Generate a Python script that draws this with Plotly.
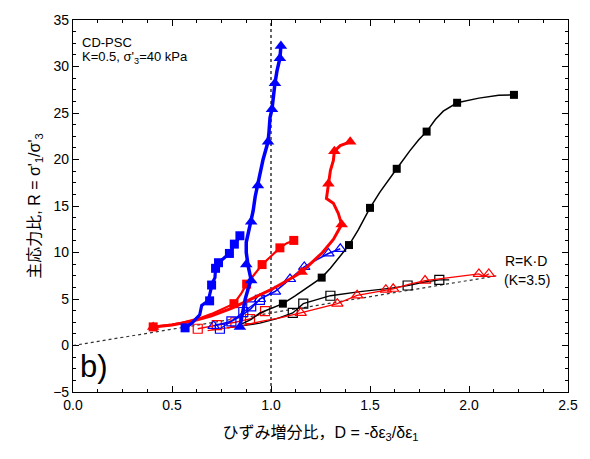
import plotly.graph_objects as go

# Strain increment ratio D and principal stress ratio R, per test path
bt_d = [0.843, 0.855, 0.87, 0.89, 0.90, 0.885, 0.875, 0.875, 0.89, 0.90, 0.91, 0.92, 0.934, 0.945,
        0.96, 0.975, 0.985, 0.99, 0.995, 1.005, 1.01, 1.015, 1.02, 1.03, 1.045, 1.05]
bt_r = [2.0, 3.5, 5.0, 6.5, 7.0, 8.5, 10.0, 11.1, 12.5, 13.3, 14.5, 16.0, 17.2, 18.5,
        20.0, 21.0, 21.9, 23.0, 24.5, 25.4, 26.5, 27.5, 28.2, 29.5, 30.9, 32.2]
bt_md = [0.843, 0.90, 0.875, 0.90, 0.934, 0.985, 1.005, 1.02, 1.045, 1.05]
bt_mr = [2.0, 7.0, 8.7, 13.3, 17.2, 21.9, 25.4, 28.2, 30.9, 32.2]

bs_d = [0.566, 0.60, 0.64, 0.65, 0.683, 0.69, 0.70, 0.705, 0.717, 0.72, 0.735, 0.765, 0.79, 0.815, 0.83, 0.843]
bs_r = [1.9, 2.4, 3.3, 4.3, 4.8, 5.5, 6.4, 6.8, 7.3, 8.3, 8.9, 9.4, 9.9, 10.9, 11.3, 11.8]
bs_md = [0.566, 0.69, 0.70, 0.72, 0.735, 0.79, 0.815, 0.843]
bs_mr = [1.9, 4.8, 6.5, 8.3, 8.9, 9.9, 10.9, 11.8]

rs_d = [0.405, 0.45, 0.5, 0.55, 0.6, 0.65, 0.70, 0.75, 0.79, 0.813, 0.85, 0.877, 0.90, 0.955, 1.0, 1.045, 1.08, 1.115]
rs_r = [2.0, 2.1, 2.25, 2.45, 2.7, 3.0, 3.4, 3.9, 4.3, 4.5, 5.6, 6.6, 7.2, 8.7, 9.6, 10.5, 11.0, 11.3]
rs_md = [0.405, 0.813, 0.877, 0.955, 1.045, 1.115]
rs_mr = [2.0, 4.5, 6.6, 8.7, 10.5, 11.3]

rt_d = [0.405, 0.5, 0.6, 0.7, 0.8, 0.9, 1.0, 1.1, 1.155, 1.2, 1.26, 1.315, 1.357, 1.34, 1.315, 1.28,
        1.29, 1.30, 1.315, 1.32, 1.35, 1.40]
rt_r = [2.0, 2.2, 2.6, 3.2, 4.0, 5.0, 6.0, 7.2, 7.9, 8.8, 10.0, 11.4, 13.0, 14.2, 15.3, 15.8,
        17.4, 18.8, 19.9, 20.9, 21.5, 21.9]
rt_md = [0.405, 1.155, 1.357, 1.29, 1.32, 1.40]
rt_mr = [2.0, 7.9, 13.0, 17.4, 20.9, 21.9]

ks_d = [0.85, 0.9, 0.944, 1.0, 1.06, 1.12, 1.18, 1.256, 1.30, 1.35, 1.394, 1.44, 1.50, 1.55, 1.60, 1.635,
        1.70, 1.745, 1.786, 1.83, 1.87, 1.94, 2.05, 2.15, 2.227]
ks_r = [2.3, 2.8, 3.5, 4.0, 4.5, 5.3, 6.2, 7.3, 8.3, 9.7, 10.8, 12.4, 14.8, 16.5, 17.9, 19.0,
        20.9, 22.1, 23.0, 24.3, 25.2, 26.1, 26.6, 26.9, 26.95]
ks_md = [1.06, 1.256, 1.394, 1.50, 1.635, 1.786, 1.94, 2.227]
ks_mr = [4.5, 7.3, 10.8, 14.8, 19.0, 23.0, 26.1, 26.95]

bot_d = [0.71, 0.75, 0.80, 0.85, 0.90, 0.944, 1.02, 1.06, 1.096, 1.13, 1.168, 1.22, 1.29, 1.35]
bot_r = [2.1, 2.3, 2.6, 3.2, 4.0, 5.0, 5.8, 6.5, 7.15, 7.8, 8.45, 9.1, 9.9, 10.4]
bot_md = [0.71, 0.944, 1.02, 1.096, 1.168, 1.29, 1.35]
bot_mr = [2.1, 5.0, 5.8, 7.15, 8.45, 9.9, 10.4]

bos_d = [0.742, 0.80, 0.86, 0.90, 0.944]
bos_r = [1.8, 2.6, 3.6, 4.2, 4.9]

ros_d = [0.63, 0.726, 0.82, 0.894, 0.97]
ros_r = [1.8, 2.2, 2.5, 2.85, 3.7]

rot_d = [0.68, 0.75, 0.85, 0.95, 1.05, 1.15, 1.25, 1.335, 1.435, 1.53, 1.58, 1.617, 1.70, 1.778, 1.90, 2.05, 2.075, 2.10]
rot_r = [1.6, 1.8, 2.1, 2.6, 3.0, 3.5, 4.0, 4.5, 5.4, 5.8, 6.0, 6.1, 6.6, 6.98, 7.3, 7.7, 7.4, 7.7]
rot_md = [1.15, 1.335, 1.435, 1.58, 1.617, 1.778, 2.05, 2.10]
rot_mr = [3.5, 4.5, 5.4, 6.0, 6.1, 6.98, 7.7, 7.7]

kos_d = [0.78, 0.85, 0.944, 1.03, 1.11, 1.163, 1.30, 1.45, 1.60, 1.69, 1.77, 1.85, 1.90]
kos_r = [1.9, 2.1, 2.4, 2.9, 3.5, 4.5, 5.35, 5.8, 6.15, 6.45, 6.8, 7.05, 7.05]
kos_md = [1.11, 1.163, 1.30, 1.69, 1.85]
kos_mr = [3.5, 4.5, 5.35, 6.45, 7.05]

# Reference relation R = K*D with K = 3.5
k_ratio = 3.5
ref_d = [0.0, 2.15]
ref_r = [k_ratio * d for d in ref_d]

BLUE = "#0000ff"
RED = "#ff0000"
BLACK = "#000000"

fig = go.Figure()

# guide lines
fig.add_trace(go.Scatter(x=ref_d, y=ref_r, mode="lines",
                         line=dict(color="#333333", width=1.2, dash="dot"), hoverinfo="skip"))
fig.add_trace(go.Scatter(x=[1.0, 1.0], y=[-5, 35], mode="lines",
                         line=dict(color=BLACK, width=1.2, dash="dot"), hoverinfo="skip"))


def path(d, r, color, width, symbol, size, md=None, mr=None, filled=True):
    fig.add_trace(go.Scatter(x=d, y=r, mode="lines",
                             line=dict(color=color, width=width), hoverinfo="skip"))
    if md is None:
        md, mr = d, r
    fig.add_trace(go.Scatter(
        x=md, y=mr, mode="markers",
        marker=dict(symbol=symbol if filled else symbol + "-open", size=size, color=color,
                    line=dict(color=color, width=1.2 if not filled else 0))))


# open-marker paths
path(kos_d, kos_r, BLACK, 1.3, "square", 9, kos_md, kos_mr, filled=False)
path(rot_d, rot_r, RED, 1.3, "triangle-up", 10, rot_md, rot_mr, filled=False)
path(ros_d, ros_r, RED, 1.3, "square", 9, filled=False)
path(bos_d, bos_r, BLUE, 1.3, "square", 9, filled=False)
path(bot_d, bot_r, BLUE, 1.6, "triangle-up", 10, bot_md, bot_mr, filled=False)

# filled-marker paths
path(ks_d, ks_r, BLACK, 1.5, "square", 8, ks_md, ks_mr)
path(rs_d, rs_r, RED, 2.2, "square", 9, rs_md, rs_mr)
path(rt_d, rt_r, RED, 3.0, "triangle-up", 11, rt_md, rt_mr)
path(bs_d, bs_r, BLUE, 3.2, "square", 9, bs_md, bs_mr)
path(bt_d, bt_r, BLUE, 3.5, "triangle-up", 11, bt_md, bt_mr)

FONT = "Liberation Sans, Arial, Noto Sans CJK JP, sans-serif"

annotations = [
    dict(x=0.035, y=32.6, text="CD-PSC", xanchor="left", yanchor="middle", font=dict(size=13)),
    dict(x=0.035, y=31.0, text="K=0.5, σ'<sub>3</sub>=40 kPa", xanchor="left", yanchor="middle",
         font=dict(size=13)),
    dict(x=0.025, y=-2.3, text="b)", xanchor="left", yanchor="middle", font=dict(size=31)),
    dict(x=2.17, y=9.1, text="R=K·D", xanchor="left", yanchor="middle", font=dict(size=14)),
    dict(x=2.165, y=7.0, text="(K=3.5)", xanchor="left", yanchor="middle", font=dict(size=14)),
]
for a in annotations:
    a.update(xref="x", yref="y", showarrow=False)
    a["font"].update(color=BLACK, family=FONT)

axis_common = dict(showline=True, linecolor=BLACK, linewidth=1.2, mirror="allticks",
                   ticks="inside", ticklen=6, tickwidth=1.2, tickcolor=BLACK,
                   showgrid=False, zeroline=False,
                   tickfont=dict(size=14, color=BLACK, family=FONT))

fig.update_layout(
    width=590, height=459,
    margin=dict(l=73, r=22, t=14, b=67),
    paper_bgcolor="white", plot_bgcolor="white",
    showlegend=False,
    font=dict(family=FONT, color=BLACK),
    annotations=annotations,
    xaxis=dict(range=[0, 2.5], dtick=0.5, tick0=0, tickformat=".1f",
               minor=dict(dtick=0.125, ticks="inside", ticklen=3, tickcolor=BLACK, tickwidth=1.2),
               title=dict(text="ひずみ増分比，D = -δε<sub>3</sub>/δε<sub>1</sub>",
                          font=dict(size=16, color=BLACK, family=FONT), standoff=14),
               **axis_common),
    yaxis=dict(range=[-5, 35], dtick=5, tick0=0,
               minor=dict(dtick=1.25, ticks="inside", ticklen=3, tickcolor=BLACK, tickwidth=1.2),
               title=dict(text="主応力比, R = σ'<sub>1</sub>/σ'<sub>3</sub>",
                          font=dict(size=16, color=BLACK, family=FONT), standoff=8),
               **axis_common),
)

fig.write_html("out.html")
